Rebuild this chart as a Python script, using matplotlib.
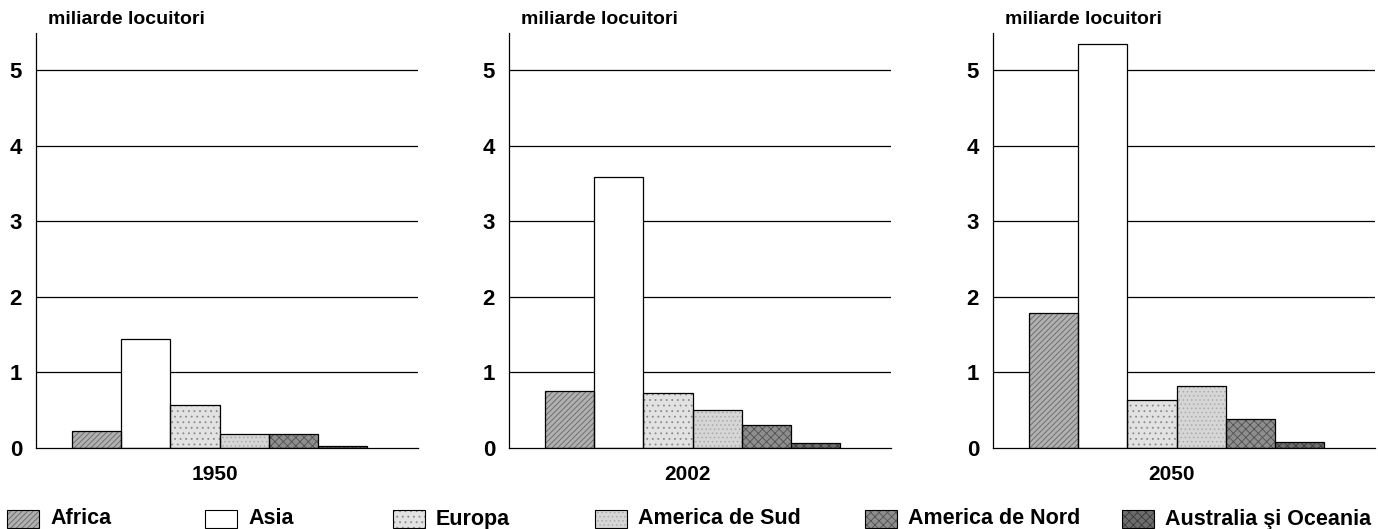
import matplotlib.pyplot as plt
from matplotlib.patches import Rectangle

plt.rcParams['font.family'] = ['Liberation Sans', 'DejaVu Sans']
plt.rcParams['font.weight'] = 'bold'
plt.rcParams['hatch.linewidth'] = 0.6

# date (miliarde locuitori)
years = ['1950', '2002', '2050']
continents = ['Africa', 'Asia', 'Europa', 'America de Sud', 'America de Nord', 'Australia şi Oceania']
val_1950 = [0.23, 1.44, 0.57, 0.18, 0.18, 0.02]
val_2002 = [0.75, 3.59, 0.73, 0.50, 0.30, 0.06]
val_2050 = [1.79, 5.34, 0.64, 0.82, 0.39, 0.08]
values = [val_1950, val_2002, val_2050]

# textura pentru fiecare continent: culoare, hasura, culoarea hasurii
face = ['#b0b0b0', 'white', '#e2e2e2', '#d6d6d6', '#8e8e8e', '#6c6c6c']
hatch = ['//////', '', '...', '....', 'xxxx', 'xxxx']
hcol = ['#666666', 'white', '#8a8a8a', '#ababab', '#505050', '#3a3a3a']

fig = plt.figure(figsize=(13.78, 5.29), dpi=100)

lefts = [36, 509, 993]
for i, year in enumerate(years):
    ax = fig.add_axes([lefts[i] / 1378, 1 - 448 / 529, 382 / 1378, (448 - 33) / 529])
    xs = list(range(len(continents)))
    for y in range(1, 6):
        ax.axhline(y, color='black', lw=0.9, zorder=1)
    ax.bar(xs, values[i], width=1.0, color=face, hatch=hatch, edgecolor=hcol,
           linewidth=0, zorder=2)
    ax.bar(xs, values[i], width=1.0, fill=False, edgecolor='black', linewidth=0.9, zorder=3)
    ax.set_xlim(-1.23, 6.53)
    ax.set_ylim(0, 5.49)
    ax.set_yticks(range(0, 6))
    ax.set_xticks([])
    ax.tick_params(axis='y', length=0, pad=10, labelsize=16)
    for s in ['top', 'right']:
        ax.spines[s].set_visible(False)
    ax.spines['left'].set_linewidth(0.9)
    ax.spines['bottom'].set_linewidth(0.9)
    ax.text(2.4, -0.04, year, transform=ax.get_xaxis_transform(), ha='center', va='top',
            fontsize=15, fontweight='bold')
    ax.text(12 / 382, 1.012, 'miliarde locuitori', transform=ax.transAxes,
            ha='left', va='bottom', fontsize=14, fontweight='bold')

# legenda de jos
leg_x = [7, 205, 393, 595, 865, 1122]
for j, name in enumerate(continents):
    x0 = leg_x[j] / 1378
    y0 = 1 - 528 / 529
    w, h = 32 / 1378, 18 / 529
    fig.add_artist(Rectangle((x0, y0), w, h, transform=fig.transFigure, facecolor=face[j],
                             hatch=hatch[j], edgecolor=hcol[j], linewidth=0))
    fig.add_artist(Rectangle((x0, y0), w, h, transform=fig.transFigure, fill=False,
                             edgecolor='black', linewidth=0.8))
    fig.text(x0 + w + 11 / 1378, y0 + h / 2, name, ha='left', va='center',
             fontsize=15.5, fontweight='bold')

fig.savefig('out.png', dpi=100)
